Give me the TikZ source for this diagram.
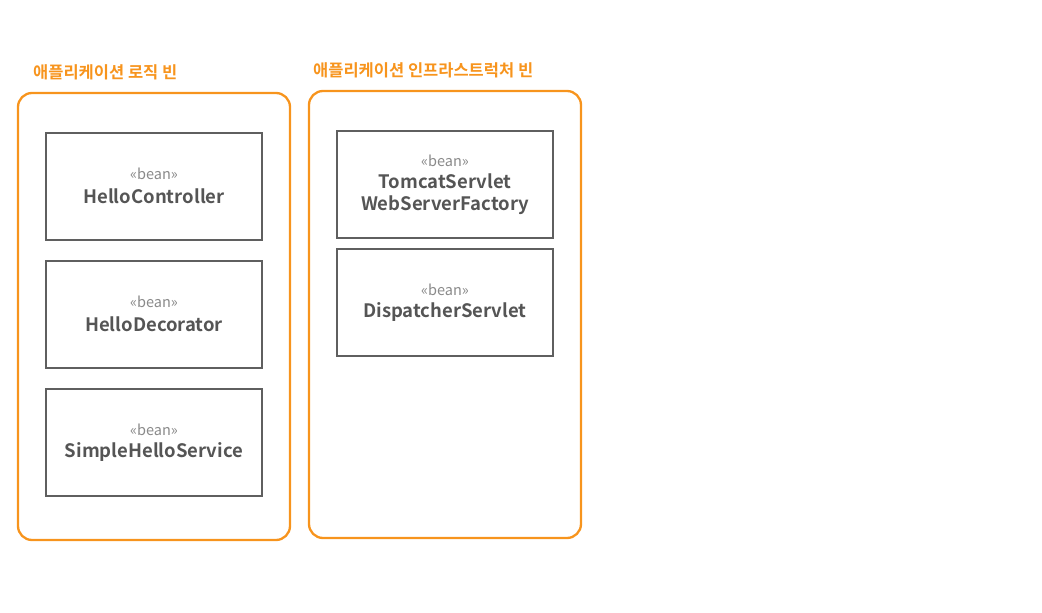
\documentclass[tikz,border=0pt]{standalone}
\usepackage{fontspec}
\setmainfont{Noto Sans CJK KR}
\newfontfamily\kbold{Noto Sans CJK KR Bold}
\definecolor{orng}{HTML}{F7941D}
\definecolor{boxgray}{HTML}{5F5F5F}
\definecolor{txtgray}{HTML}{555555}
\definecolor{beangray}{HTML}{8A8A8A}
\tikzset{
  container/.style={draw=orng, line width=2.3pt, rounded corners=14pt, minimum width=272pt, minimum height=447pt, inner sep=0pt},
  beanbox/.style={draw=boxgray, line width=2.6pt, fill=white, minimum width=216pt, minimum height=107pt, inner sep=0pt},
  title/.style={text=orng, font=\kbold\fontsize{16.5}{18}\selectfont, inner sep=0pt},
  stereo/.style={text=beangray, font=\fontsize{14.5}{16}\selectfont, inner sep=0pt},
  bname/.style={text=txtgray, font=\kbold\fontsize{18.5}{22}\selectfont, inner sep=0pt, align=center},
}
\begin{document}
\begin{tikzpicture}[x=1pt,y=-1pt]
\useasboundingbox (0,0) rectangle (1042,613);
% containers
\node[container] (logic) at (154,316.5) {};
\node[container] (infra) at (445,314.5) {};
\node[title, anchor=west] (logict) at (33,72) {애플리케이션 로직 빈};
\node[title, anchor=west] (infrat) at (313,70) {애플리케이션 인프라스트럭처 빈};
% left beans
\node[beanbox] (b1) at (154,186.5) {};
\node[stereo] (s1) at (154,174) {«bean»};
\node[bname] (n1) at (154,196) {HelloController};
\node[beanbox] (b2) at (154,314.5) {};
\node[stereo] (s2) at (154,302) {«bean»};
\node[bname] (n2) at (154,324) {HelloDecorator};
\node[beanbox] (b3) at (154,442.5) {};
\node[stereo] (s3) at (154,430) {«bean»};
\node[bname] (n3) at (154,452) {SimpleHelloService};
% right beans
\node[beanbox] (r1) at (445,184.5) {};
\node[stereo] (s4) at (445,161) {«bean»};
\node[bname] (n4) at (445,194) {TomcatServlet\\WebServerFactory};
\node[beanbox] (r2) at (445,302.5) {};
\node[stereo] (s5) at (445,290) {«bean»};
\node[bname] (n5) at (445,312) {DispatcherServlet};
\end{tikzpicture}
\end{document}
